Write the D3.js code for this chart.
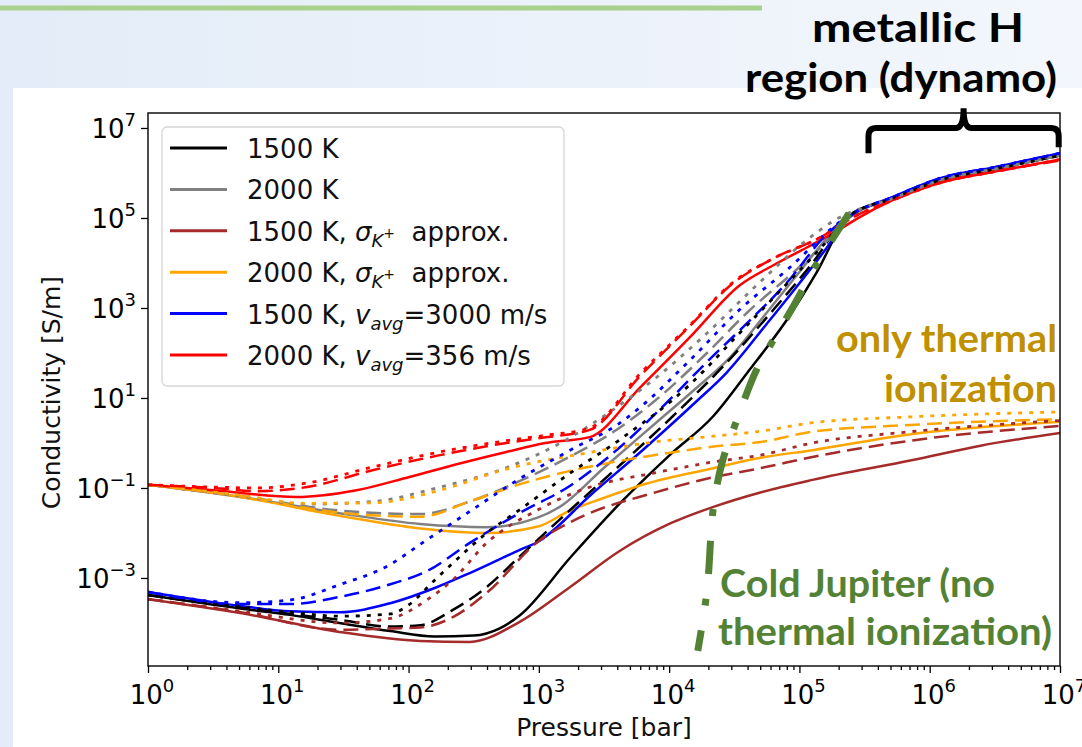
<!DOCTYPE html>
<html>
<head>
<meta charset="utf-8">
<script src="https://cdn.jsdelivr.net/npm/d3@7"></script>
<style>
  body { margin: 0; }
  svg { display: block; }
</style>
</head>
<body>
<svg id="chart" width="1082" height="747"></svg>
<script>
// Every series is a list of [log10 P (bar), log10 sigma (S/m)]

const black_solid  = [[0,-3.38],[0.71,-3.68],[1.09,-3.82],[1.47,-4.0],[1.86,-4.18],[2.2,-4.3],[2.5,-4.28],[2.7,-4.12],[2.85,-3.84],[3.24,-2.55],[3.62,-1.35],[4.0,-0.28],[4.34,0.6],[4.6,1.56],[4.93,2.85],[5.13,3.78],[5.36,4.96],[5.72,5.44],[6.1,5.86],[6.5,6.09],[7,6.39]];
const black_dashed = [[0,-3.38],[0.71,-3.66],[1.09,-3.8],[1.47,-3.93],[1.86,-4.08],[2.09,-4.05],[2.34,-3.71],[2.6,-3.2],[2.85,-2.53],[3.24,-1.49],[3.62,-0.5],[4.03,0.6],[4.41,1.69],[4.8,2.96],[5.1,4.0],[5.36,5.0],[5.72,5.44],[6.1,5.86],[6.5,6.09],[7,6.39]];
const black_dotted = [[0,-3.38],[0.71,-3.64],[1.09,-3.76],[1.47,-3.85],[1.86,-3.8],[2.0,-3.6],[2.2,-3.05],[2.34,-2.67],[2.6,-2.0],[2.85,-1.49],[3.24,-0.67],[3.62,0.07],[4.16,1.3],[4.54,2.44],[4.93,3.62],[5.2,4.45],[5.36,5.0],[5.72,5.44],[6.1,5.86],[6.5,6.09],[7,6.39]];

const gray_solid  = [[0,-0.93],[0.71,-1.2],[1.47,-1.56],[2.09,-1.8],[2.6,-1.87],[2.99,-1.66],[3.16,-1.42],[3.5,-0.55],[3.9,0.45],[4.2,1.2],[4.47,1.91],[4.75,2.9],[5.0,3.8],[5.21,4.55],[5.38,5.02],[5.72,5.44],[6.1,5.86],[6.5,6.09],[7,6.39]];
const gray_dashed = [[0,-0.93],[0.71,-1.18],[1.47,-1.5],[2.09,-1.58],[2.47,-1.3],[2.85,-0.85],[3.24,-0.3],[3.6,0.3],[3.9,0.96],[4.29,2.0],[4.6,2.9],[5.0,3.91],[5.25,4.6],[5.38,5.02],[5.72,5.44],[6.1,5.86],[6.5,6.09],[7,6.39]];
const gray_dotted = [[0,-0.93],[0.71,-1.18],[1.2,-1.36],[1.73,-1.3],[2.24,-0.98],[2.75,-0.55],[3.24,0.12],[3.55,0.7],[3.9,1.45],[4.29,2.44],[4.67,3.5],[5.03,4.45],[5.3,5.0],[5.72,5.44],[6.1,5.86],[6.5,6.09],[7,6.39]];

const brown_solid  = [[0,-3.47],[0.71,-3.78],[1.47,-4.2],[2.09,-4.4],[2.47,-4.42],[2.85,-3.98],[3.24,-3.2],[3.62,-2.4],[4.0,-1.8],[4.34,-1.42],[4.7,-1.1],[5.1,-0.82],[5.87,-0.38],[6.39,-0.06],[7,0.22]];
const brown_dashed = [[0,-3.47],[0.71,-3.76],[1.47,-4.15],[1.86,-4.12],[2.09,-4.1],[2.34,-3.87],[2.6,-3.33],[2.99,-2.2],[3.32,-1.65],[3.88,-1.11],[4.34,-0.76],[4.7,-0.56],[5.1,-0.31],[5.85,0.05],[7,0.38]];
const brown_dotted = [[0,-3.47],[0.71,-3.74],[1.47,-4.0],[1.86,-3.9],[2.14,-3.49],[2.34,-3.04],[2.6,-2.22],[2.99,-1.49],[3.37,-1.0],[3.88,-0.67],[4.34,-0.42],[4.7,-0.27],[5.1,0.0],[5.85,0.25],[7,0.5]];

const orange_solid  = [[0,-0.93],[0.71,-1.2],[1.47,-1.62],[2.09,-1.9],[2.6,-2.0],[3.0,-1.85],[3.24,-1.5],[3.47,-1.25],[3.83,-0.9],[4.34,-0.56],[4.7,-0.33],[5.1,-0.16],[5.87,0.2],[7,0.47]];
const orange_dashed = [[0,-0.93],[0.71,-1.18],[1.47,-1.55],[2.09,-1.64],[2.47,-1.3],[2.85,-0.92],[3.24,-0.62],[3.62,-0.4],[4.0,-0.22],[4.34,-0.08],[4.7,0.02],[5.1,0.25],[5.85,0.4],[7,0.53]];
const orange_dotted = [[0,-0.93],[0.71,-1.16],[1.2,-1.34],[1.73,-1.33],[2.24,-1.05],[2.75,-0.58],[3.37,-0.22],[3.88,0.02],[4.34,0.15],[4.7,0.26],[5.1,0.45],[5.85,0.58],[7,0.69]];

const blue_solid  = [[0,-3.31],[0.71,-3.62],[1.09,-3.74],[1.47,-3.76],[1.86,-3.56],[2.22,-3.2],[2.47,-2.89],[2.85,-2.38],[2.99,-2.2],[3.4,-1.15],[3.8,-0.15],[4.2,0.9],[4.44,1.56],[4.75,2.65],[5.0,3.55],[5.2,4.3],[5.36,4.96],[5.72,5.47],[6.1,5.9],[6.5,6.13],[7,6.44]];
const blue_dashed = [[0,-3.31],[0.71,-3.58],[1.09,-3.58],[1.47,-3.42],[1.86,-3.14],[2.14,-2.85],[2.47,-2.22],[2.85,-1.56],[3.24,-0.95],[3.62,-0.1],[4.0,0.95],[4.29,1.8],[4.54,2.5],[4.93,3.65],[5.18,4.55],[5.36,5.0],[5.72,5.47],[6.1,5.9],[6.5,6.13],[7,6.44]];
const blue_dotted = [[0,-3.31],[0.71,-3.55],[1.09,-3.49],[1.47,-3.15],[1.86,-2.7],[2.09,-2.25],[2.47,-1.52],[2.85,-0.8],[3.24,-0.16],[3.62,0.44],[3.78,0.8],[4.16,1.84],[4.54,2.96],[4.93,3.91],[5.26,4.8],[5.36,5.02],[5.72,5.47],[6.1,5.9],[6.5,6.13],[7,6.44]];

const red_solid  = [[0,-0.93],[0.5,-1.05],[1.14,-1.2],[1.6,-1.05],[2.0,-0.76],[2.4,-0.45],[2.75,-0.2],[3.05,0.0],[3.39,0.13],[3.78,1.24],[4.16,2.35],[4.54,3.5],[4.8,3.95],[5.06,4.35],[5.31,4.75],[5.44,4.98],[5.72,5.4],[6.1,5.8],[6.5,6.03],[7,6.3]];
const red_dashed = [[0,-0.93],[0.5,-1.0],[0.84,-1.07],[1.22,-0.98],[1.73,-0.6],[2.24,-0.27],[2.75,0.0],[3.01,0.11],[3.39,0.29],[3.78,1.5],[4.16,2.6],[4.49,3.55],[4.8,4.1],[5.18,4.6],[5.4,5.0],[5.72,5.4],[6.1,5.8],[6.5,6.03],[7,6.28]];
const red_dotted = [[0,-0.93],[0.5,-0.98],[0.84,-1.0],[1.22,-0.89],[1.73,-0.53],[2.24,-0.2],[2.75,0.05],[3.05,0.17],[3.39,0.33],[3.78,1.55],[4.16,2.62],[4.49,3.57],[4.8,4.1],[5.18,4.6],[5.4,5.0],[5.72,5.4],[6.1,5.8],[6.5,6.03],[7,6.3]];

// annotation: green dash-dot boundary and the bracket span (log10 values)
const cold_jupiter_line = [[5.38,5.1],[5.13,3.96],[4.95,3.02],[4.8,2.29],[4.67,1.62],[4.52,0.51],[4.41,-0.4],[4.34,-1.42],[4.29,-3.3],[4.22,-4.62]];
const bracket_span = [5.53, 6.99];

const x_ticks = [0,1,2,3,4,5,6,7];
const y_ticks = [-3,-1,1,3,5,7];

const legend_labels = [
    [{t: "1500 K"}],
    [{t: "2000 K"}],
    [{t: "1500 K, "}, {t: "σ", it: 1}, {t: "K", it: 1, sub: 1}, {t: "+", sup: 1}, {t: "\u00a0 approx."}],
    [{t: "2000 K, "}, {t: "σ", it: 1}, {t: "K", it: 1, sub: 1}, {t: "+", sup: 1}, {t: "\u00a0 approx."}],
    [{t: "1500 K, "}, {t: "v", it: 1}, {t: "avg", it: 1, sub: 1}, {t: "=3000 m/s"}],
    [{t: "2000 K, "}, {t: "v", it: 1}, {t: "avg", it: 1, sub: 1}, {t: "=356 m/s"}]
];

const COLORS = {black: "#000000", gray: "#808080", brown: "#a52a2a", orange: "#ffa500", blue: "#0000ff", red: "#ff0000"};
const DASH = {solid: null, dashed: "15,7", dotted: "4,7"};

const SERIES = [
    {c: "black", s: "solid", d: black_solid}, {c: "gray", s: "solid", d: gray_solid},
    {c: "brown", s: "solid", d: brown_solid}, {c: "orange", s: "solid", d: orange_solid},
    {c: "blue", s: "solid", d: blue_solid}, {c: "red", s: "solid", d: red_solid},
    {c: "black", s: "dashed", d: black_dashed}, {c: "gray", s: "dashed", d: gray_dashed},
    {c: "brown", s: "dashed", d: brown_dashed}, {c: "orange", s: "dashed", d: orange_dashed},
    {c: "blue", s: "dashed", d: blue_dashed}, {c: "red", s: "dashed", d: red_dashed},
    {c: "black", s: "dotted", d: black_dotted}, {c: "gray", s: "dotted", d: gray_dotted},
    {c: "brown", s: "dotted", d: brown_dotted}, {c: "orange", s: "dotted", d: orange_dotted},
    {c: "blue", s: "dotted", d: blue_dotted}, {c: "red", s: "dotted", d: red_dotted}
];
const LEGEND_COLORS = ["black", "gray", "brown", "orange", "blue", "red"];

/*****************************************************************************
 *  Layout
 */
const W = 1082, H = 747;
const PLOT_L = 148, PLOT_R = 1060, PLOT_T = 113, PLOT_B = 666;
const FONT = "'DejaVu Sans', sans-serif";
const ANNOT_FONT = "Lato, 'Open Sans', sans-serif";

const svg = d3.select("#chart");

var xScale = d3.scaleLog().domain([1, 1e7]).range([PLOT_L, PLOT_R]);
var yScale = d3.scaleLog().domain([Math.pow(10, -4.956), Math.pow(10, 7.333)]).range([PLOT_B, PLOT_T]);
const px = v => xScale(Math.pow(10, v));
const py = v => yScale(Math.pow(10, v));

// slide background
var defs = svg.append("defs");
var grad = defs.append("linearGradient").attr("id", "bg").attr("x1", "0").attr("x2", "1").attr("y1", "0").attr("y2", "0");
grad.append("stop").attr("offset", "0").attr("stop-color", "#e3ecf8");
grad.append("stop").attr("offset", "1").attr("stop-color", "#f3f7fc");
svg.append("rect").attr("width", W).attr("height", H).attr("fill", "url(#bg)");
svg.append("rect").attr("x", 13).attr("y", 88).attr("width", W - 13).attr("height", H - 88).attr("fill", "#ffffff");
svg.append("line").attr("x1", 0).attr("x2", 762).attr("y1", 8).attr("y2", 8)
    .attr("stroke", "#a9d18e").attr("stroke-width", 5);

defs.append("clipPath").attr("id", "plotclip").append("rect")
    .attr("x", PLOT_L).attr("y", PLOT_T).attr("width", PLOT_R - PLOT_L).attr("height", PLOT_B - PLOT_T);

// Render curves
var lineGenerator = d3.line()
    .x(d => px(d[0]))
    .y(d => py(d[1]))
    .curve(d3.curveMonotoneX);

svg.append("g").attr("clip-path", "url(#plotclip)")
    .selectAll("path")
    .data(SERIES)
    .enter()
    .append("path")
    .attr("d", d => lineGenerator(d.d))
    .attr("fill", "none")
    .attr("stroke", d => COLORS[d.c])
    .attr("stroke-width", d => d.s == "dotted" ? 2.8 : 2.5)
    .attr("stroke-dasharray", d => DASH[d.s]);

// Render axes
var majorX = x_ticks.map(e => Math.pow(10, e));
var minorX = [];
for (var e = 0; e < 7; e++) {
    for (var k = 2; k < 10; k++) minorX.push(k * Math.pow(10, e));
}
function styleAxis(g) {
    g.select(".domain").remove();
    g.selectAll(".tick line").attr("stroke", "#000").attr("stroke-width", 1.3);
}
svg.append("g").attr("transform", `translate(0,${PLOT_B})`)
    .call(d3.axisBottom(xScale).tickValues(majorX).tickSize(7).tickFormat(""))
    .call(styleAxis);
svg.append("g").attr("transform", `translate(0,${PLOT_B})`)
    .call(d3.axisBottom(xScale).tickValues(minorX).tickSize(4).tickFormat(""))
    .call(styleAxis);
svg.append("g").attr("transform", `translate(${PLOT_L},0)`)
    .call(d3.axisLeft(yScale).tickValues(y_ticks.map(e => Math.pow(10, e))).tickSize(7).tickFormat(""))
    .call(styleAxis);

function powerLabel(text, exp) {
    text.append("tspan").text("10");
    text.append("tspan").attr("dy", -12).attr("font-size", 18).text(exp < 0 ? "\u2212" + (-exp) : exp);
}
x_ticks.forEach(function (e) {
    var t = svg.append("text")
        .attr("x", px(e) + 4).attr("y", PLOT_B + 38)
        .attr("text-anchor", "middle")
        .attr("font-family", FONT).attr("font-size", 26).attr("fill", "#000");
    powerLabel(t, e);
});
y_ticks.forEach(function (e) {
    var t = svg.append("text")
        .attr("x", PLOT_L - 12).attr("y", py(e) + 10)
        .attr("text-anchor", "end")
        .attr("font-family", FONT).attr("font-size", 26).attr("fill", "#000");
    powerLabel(t, e);
});

svg.append("rect")
    .attr("x", PLOT_L).attr("y", PLOT_T).attr("width", PLOT_R - PLOT_L).attr("height", PLOT_B - PLOT_T)
    .attr("fill", "none").attr("stroke", "#000").attr("stroke-width", 1.4);

svg.append("text")
    .attr("x", (PLOT_L + PLOT_R) / 2).attr("y", 736)
    .attr("text-anchor", "middle")
    .attr("font-family", FONT).attr("font-size", 25).attr("fill", "#111")
    .text("Pressure [bar]");
svg.append("text")
    .attr("transform", `translate(60,${(PLOT_T + PLOT_B) / 2 + 3}) rotate(-90)`)
    .attr("text-anchor", "middle")
    .attr("font-family", FONT).attr("font-size", 25).attr("fill", "#111")
    .text("Conductivity [S/m]");

// Render legend
var legend = svg.append("g");
legend.append("rect")
    .attr("x", 162).attr("y", 127).attr("width", 402).attr("height", 259)
    .attr("rx", 5).attr("ry", 5)
    .attr("fill", "#ffffff").attr("fill-opacity", 0.85)
    .attr("stroke", "#d6d6d6").attr("stroke-width", 1.3);
legend_labels.forEach(function (parts, i) {
    var base = 158 + i * 41.4;
    legend.append("line")
        .attr("x1", 170).attr("x2", 227)
        .attr("y1", base - 10).attr("y2", base - 10)
        .attr("stroke", COLORS[LEGEND_COLORS[i]]).attr("stroke-width", 3);
    var t = legend.append("text")
        .attr("x", 247).attr("y", base)
        .attr("font-family", FONT).attr("font-size", 26).attr("fill", "#111");
    var shift = 0;
    parts.forEach(function (p) {
        var target = p.sub ? 6 : (p.sup ? -3 : 0);
        t.append("tspan")
            .attr("dy", target - shift)
            .attr("font-size", p.sub ? 18 : (p.sup ? 14 : 26))
            .attr("font-style", p.it ? "italic" : "normal")
            .text(p.t);
        shift = target;
    });
});

// Render annotations
var guideLine = d3.line()
    .x(d => px(d[0]))
    .y(d => py(d[1]))
    .curve(d3.curveCatmullRom);
svg.append("path")
    .attr("d", guideLine(cold_jupiter_line))
    .attr("fill", "none")
    .attr("stroke", "#548235")
    .attr("stroke-width", 7)
    .attr("stroke-dasharray", "33,25,7,25");

var bx0 = px(bracket_span[0]), bx1 = px(bracket_span[1]);
var bm = (bx0 + bx1) / 2, by = py(7), bLeg = py(6.44), bTop = py(7.44);
svg.append("path")
    .attr("d", `M${bx0},${bLeg} L${bx0},${by + 8} Q${bx0},${by} ${bx0 + 8},${by} L${bm - 8},${by} Q${bm},${by} ${bm},${bTop}` +
        ` Q${bm},${by} ${bm + 8},${by} L${bx1 - 8},${by} Q${bx1},${by} ${bx1},${by + 8} L${bx1},${bLeg - 6}`)
    .attr("fill", "none").attr("stroke", "#000").attr("stroke-width", 6);

function annot(txt, xx, yy, anchor, color, size, width) {
    svg.append("text")
        .attr("x", xx).attr("y", yy)
        .attr("text-anchor", anchor)
        .attr("font-family", ANNOT_FONT).attr("font-weight", "bold")
        .attr("font-size", size).attr("fill", color)
        .attr("textLength", width).attr("lengthAdjust", "spacingAndGlyphs")
        .text(txt);
}
annot("metallic H", 918, 42, "middle", "#000", 40, 212);
annot("region (dynamo)", 901, 92, "middle", "#000", 40, 312);
annot("only thermal", 1057, 352, "end", "#bf9000", 38, 221);
annot("ionization", 1057, 402, "end", "#bf9000", 38, 173);
annot("Cold Jupiter (no", 720, 597, "start", "#548235", 38, 275);
annot("thermal ionization)", 718, 645, "start", "#548235", 38, 334);
</script>
</body>
</html>
